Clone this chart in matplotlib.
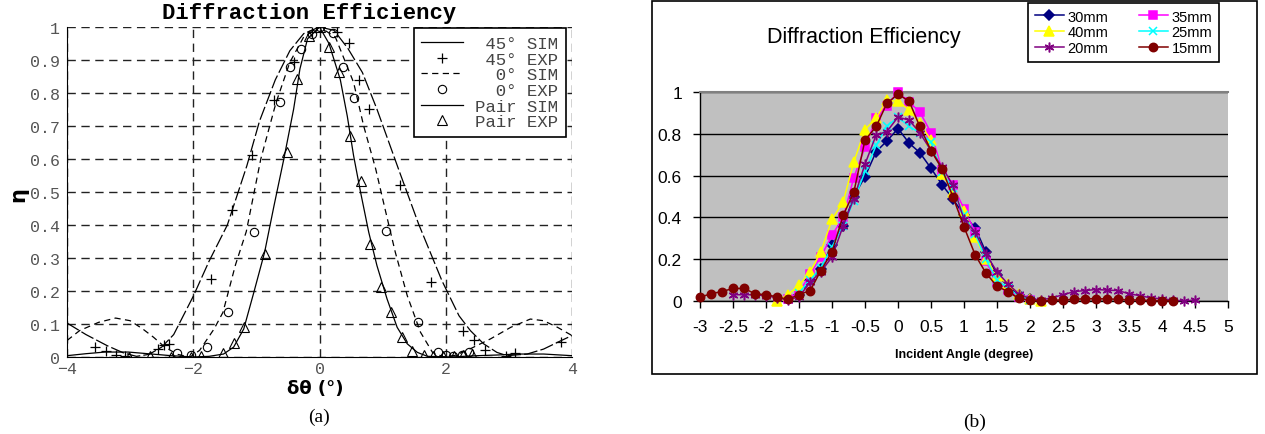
import matplotlib
matplotlib.use('Agg')
import matplotlib.pyplot as plt
from matplotlib.patches import Rectangle
from matplotlib.lines import Line2D

# ---------- (a) simulated curves and measured points ----------
x45_sim = [-4.0, -3.7, -3.36, -3.1, -2.9, -2.7, -2.5, -2.31, -2.0, -1.75, -1.46, -1.15, -0.95, -0.7, -0.47,
           -0.25, 0.0, 0.23, 0.45, 0.68, 0.91, 1.26, 1.57, 1.94, 2.21, 2.39, 2.6, 2.81, 2.97, 3.29, 3.55, 3.82, 4.0]
y45_sim = [0.103, 0.068, 0.034, 0.012, 0.002, 0.008, 0.03, 0.068, 0.184, 0.29, 0.4, 0.58, 0.715, 0.84, 0.928,
           0.98, 1.0, 0.99, 0.935, 0.862, 0.751, 0.565, 0.403, 0.231, 0.125, 0.08, 0.04, 0.014, 0.004, 0.009, 0.024, 0.049, 0.065]

x0_sim = [-4.0, -3.8, -3.5, -3.23, -3.0, -2.8, -2.63, -2.45, -2.25, -2.05, -1.9, -1.67, -1.53, -1.33, -1.16,
          -0.93, -0.69, -0.47, -0.25, 0.0, 0.25, 0.54, 0.7, 0.89, 1.05, 1.2, 1.39, 1.6, 1.79, 1.97,
          2.15, 2.39, 2.71, 3.03, 3.34, 3.55, 3.77, 4.0]
y0_sim = [0.05, 0.08, 0.105, 0.118, 0.11, 0.085, 0.06, 0.03, 0.008, 0.0, 0.02, 0.085, 0.135, 0.28, 0.38,
          0.6, 0.77, 0.893, 0.97, 1.0, 0.97, 0.832, 0.7, 0.57, 0.439, 0.318, 0.186, 0.075, 0.014, 0.0,
          0.005, 0.025, 0.055, 0.09, 0.115, 0.11, 0.09, 0.065]

xpair_sim = [-4.0, -3.7, -3.4, -3.03, -2.72, -2.35, -2.0, -1.75, -1.52, -1.36, -1.2, -1.04, -0.87, -0.72,
             -0.565, -0.41, -0.31, -0.19, 0.0, 0.15, 0.33, 0.44, 0.54, 0.65, 0.78, 0.91, 1.07, 1.23, 1.39,
             1.55, 1.71, 2.07, 2.5, 2.81, 3.13, 3.55, 4.0]
ypair_sim = [0.004, 0.01, 0.015, 0.015, 0.01, 0.004, 0.0, 0.002, 0.009, 0.03, 0.085, 0.196, 0.317, 0.459,
             0.6, 0.751, 0.873, 0.964, 1.0, 0.95, 0.84, 0.73, 0.61, 0.5, 0.378, 0.277, 0.176, 0.09, 0.04,
             0.014, 0.002, 0.0, 0.004, 0.006, 0.009, 0.009, 0.004]

x45_exp = [-3.55, -3.38, -3.22, -3.08, -2.56, -2.47, -2.38, -1.72, -1.39, -1.07, -0.72, -0.40, -0.12,
           0.28, 0.46, 0.62, 0.78, 1.27, 1.77, 2.28, 2.45, 2.62, 2.95, 3.1, 3.82]
y45_exp = [0.029, 0.017, 0.006, 0.003, 0.025, 0.035, 0.039, 0.237, 0.445, 0.612, 0.778, 0.893, 0.985,
           0.986, 0.952, 0.839, 0.753, 0.522, 0.226, 0.08, 0.052, 0.022, 0.002, 0.011, 0.046]

x0_exp = [-2.25, -2.03, -1.78, -1.45, -1.03, -0.62, -0.46, -0.29, -0.12, 0.0, 0.22, 0.38, 0.55, 1.06,
          1.56, 1.87, 2.0, 2.12, 2.25, 2.37]
y0_exp = [0.013, 0.006, 0.03, 0.135, 0.38, 0.772, 0.878, 0.933, 0.98, 1.0, 0.983, 0.878, 0.786, 0.381,
          0.105, 0.014, 0.005, 0.003, 0.006, 0.016]

xpair_exp = [-3.02, -2.69, -2.36, -2.03, -1.87, -1.53, -1.36, -1.19, -0.86, -0.51, -0.35, -0.17, 0.0,
             0.15, 0.31, 0.48, 0.65, 0.80, 0.97, 1.13, 1.30, 1.47, 1.65, 1.8, 1.95, 2.13, 2.27, 2.42]
ypair_exp = [0.001, 0.004, 0.001, 0.001, 0.003, 0.012, 0.043, 0.092, 0.312, 0.62, 0.842, 0.974, 1.0,
             0.94, 0.863, 0.669, 0.534, 0.342, 0.211, 0.135, 0.062, 0.019, 0.007, 0.003, 0.002, 0.003, 0.006, 0.01]

legend_a = [' 45° SIM', ' 45° EXP', '  0° SIM', '  0° EXP', 'Pair SIM', 'Pair EXP']
xticks_a = [-4, -2, 0, 2, 4]
xticklabels_a = ['\u22124', '\u22122', '0', '2', '4']
yticks_a = [0, 0.1, 0.2, 0.3, 0.4, 0.5, 0.6, 0.7, 0.8, 0.9, 1]
yticklabels_a = ['0', '0.1', '0.2', '0.3', '0.4', '0.5', '0.6', '0.7', '0.8', '0.9', '1']

# ---------- (b) measured efficiency per crystal length ----------
angles = [-3.0, -2.83, -2.67, -2.5, -2.33, -2.17, -2.0, -1.83, -1.67, -1.5, -1.33, -1.17, -1.0, -0.83,
          -0.67, -0.5, -0.33, -0.17, 0.0, 0.17, 0.33, 0.5, 0.67, 0.83, 1.0, 1.17, 1.33, 1.5, 1.67, 1.83,
          2.0, 2.17, 2.33, 2.5, 2.67, 2.83, 3.0, 3.17, 3.33, 3.5, 3.67, 3.83, 4.0, 4.17, 4.33, 4.5]

eff_30 = [0.03, 0.1, 0.155, 0.27, 0.36, 0.5, 0.595, 0.715, 0.765, 0.825, 0.755, 0.71, 0.635, 0.555, 0.49,
          0.41, 0.35, 0.235, 0.125, 0.07, 0.03, 0.01]                                   # -1.5 .. 2.0
eff_35 = [0.01, 0.04, 0.13, 0.21, 0.315, 0.4, 0.59, 0.735, 0.875, 0.935, 1.0, 0.95, 0.905, 0.805, 0.625,
          0.555, 0.44, 0.33, 0.19, 0.09, 0.055, 0.02, 0.005]                            # -1.67 .. 2.0
eff_40 = [0.0, 0.03, 0.075, 0.14, 0.235, 0.39, 0.475, 0.665, 0.82, 0.875, 0.96, 0.955, 0.915, 0.85, 0.77,
          0.61, 0.52, 0.43, 0.305, 0.2, 0.12, 0.08, 0.035, 0.01, 0.0]                   # -1.83 .. 2.17
eff_25 = [0.04, 0.1, 0.16, 0.26, 0.36, 0.48, 0.62, 0.745, 0.835, 0.88, 0.835, 0.805, 0.76, 0.615, 0.54,
          0.41, 0.32, 0.2, 0.1, 0.06, 0.025, 0.005]                                     # -1.5 .. 2.0
eff_20 = [0.03, 0.03, 0.03, 0.025, 0.015, 0.005, 0.02, 0.09, 0.14, 0.21, 0.36, 0.49, 0.655, 0.795, 0.81,
          0.88, 0.865, 0.805, 0.72, 0.64, 0.555, 0.39, 0.33, 0.225, 0.14, 0.08, 0.035, 0.01, 0.005, 0.015,
          0.03, 0.045, 0.05, 0.055, 0.052, 0.05, 0.035, 0.025, 0.015, 0.01, 0.005, 0.0, 0.005]  # -2.5 .. 4.5
eff_15 = [0.018, 0.035, 0.045, 0.06, 0.06, 0.035, 0.03, 0.02, 0.008, 0.03, 0.05, 0.145, 0.235, 0.41, 0.52,
          0.77, 0.835, 0.945, 0.99, 0.955, 0.835, 0.72, 0.63, 0.5, 0.355, 0.22, 0.135, 0.07, 0.045, 0.012,
          0.005, 0.0, 0.003, 0.005, 0.008, 0.011, 0.011, 0.01, 0.008, 0.005, 0.005, 0.002, 0.002, 0.002]  # -3 .. 4.17

xticks_b = [-3, -2.5, -2, -1.5, -1, -0.5, 0, 0.5, 1, 1.5, 2, 2.5, 3, 3.5, 4, 4.5, 5]
xticklabels_b = ['-3', '-2.5', '-2', '-1.5', '-1', '-0.5', '0', '0.5', '1', '1.5', '2', '2.5', '3', '3.5',
                 '4', '4.5', '5']
yticks_b = [0, 0.2, 0.4, 0.6, 0.8, 1]
yticklabels_b = ['0', '0.2', '0.4', '0.6', '0.8', '1']

W, H = 1265, 435
mono = ['Liberation Mono', 'DejaVu Sans Mono']
sans = ['Liberation Sans', 'DejaVu Sans']

fig = plt.figure(figsize=(W / 100, H / 100), dpi=100)

# ===== panel (a) =====
ax1 = fig.add_axes([67 / W, 77 / H, 505 / W, 330 / H])
long_dash = (0, (11, 2.5))
short_dash = (0, (5, 3.5))
ax1.plot(x45_sim, y45_sim, color='k', lw=0.9, ls=long_dash)
ax1.plot(x0_sim, y0_sim, color='k', lw=0.9, ls=short_dash)
ax1.plot(xpair_sim, ypair_sim, color='k', lw=0.9)
ax1.plot(x45_exp, y45_exp, ls='none', marker='+', ms=7, mew=0.9, color='k')
ax1.plot(x0_exp, y0_exp, ls='none', marker='o', ms=6, mew=0.8, mfc='none', color='k')
ax1.plot(xpair_exp, ypair_exp, ls='none', marker='^', ms=7, mew=0.8, mfc='none', color='k')

ax1.set_xlim(-4, 4)
ax1.set_ylim(0, 1)
ax1.set_xticks(xticks_a)
ax1.set_xticklabels(xticklabels_a)
ax1.set_yticks(yticks_a)
ax1.set_yticklabels(yticklabels_a)
ax1.grid(True, color='#222222', lw=1.0, ls=(0, (6, 4)))
for s in ['top', 'right']:
    ax1.spines[s].set_visible(False)
ax1.tick_params(axis='y', length=0, pad=5, labelsize=12, labelcolor='#555555')
ax1.tick_params(axis='x', length=0, pad=3, labelsize=12, labelcolor='#555555')
for t in ax1.get_xticklabels() + ax1.get_yticklabels():
    t.set_family(mono)

handles_a = [
    Line2D([], [], color='k', lw=0.9),
    Line2D([], [], ls='none', marker='+', ms=7, mew=0.9, color='k'),
    Line2D([], [], color='k', lw=0.9, ls=short_dash),
    Line2D([], [], ls='none', marker='o', ms=6, mew=0.8, mfc='none', color='k'),
    Line2D([], [], color='k', lw=0.9),
    Line2D([], [], ls='none', marker='^', ms=7, mew=0.8, mfc='none', color='k'),
]
leg_a = fig.legend(handles_a, legend_a, loc='upper right', bbox_to_anchor=(566 / W, 1 - 29 / H),
                   borderaxespad=0, frameon=True, fancybox=False, framealpha=1, edgecolor='k',
                   prop={'family': mono, 'size': 12.5}, labelspacing=0.03, handlelength=2.4,
                   handletextpad=0.7, borderpad=0.45)
leg_a.get_frame().set_linewidth(1.2)
for t in leg_a.get_texts():
    t.set_color('#444444')

fig.text(309 / W, 1 - 14 / H, 'Diffraction Efficiency', ha='center', va='center',
         family=mono, weight='bold', fontsize=16)
fig.text(18 / W, 1 - 195 / H, '\u03b7', ha='center', va='center', rotation=90,
         weight='bold', fontsize=15)
fig.text(315 / W, 1 - 389 / H, '\u03b4\u03b8 (\u00b0)', ha='center', va='center',
         family=['DejaVu Sans'], weight='bold', fontsize=13)
fig.text(319 / W, 1 - 417 / H, '(a)', ha='center', va='center', family=['Liberation Serif'], fontsize=14)

# ===== panel (b) =====
fig.add_artist(Rectangle((652 / W, 60 / H), 605 / W, 373 / H, transform=fig.transFigure,
                         fill=False, edgecolor='k', lw=1.2))
ax2 = fig.add_axes([700 / W, 133 / H, 528 / W, 209 / H])
ax2.set_facecolor('#c0c0c0')

series = [
    ('30mm', angles[9:31], eff_30, '#000080', 'D', 5),
    ('35mm', angles[8:31], eff_35, '#ff00ff', 's', 5.5),
    ('40mm', angles[7:32], eff_40, '#ffff00', '^', 6.5),
    ('25mm', angles[9:31], eff_25, '#00ffff', 'x', 6),
    ('20mm', angles[3:46], eff_20, '#800080', (6, 2, 0), 7),
    ('15mm', angles[0:44], eff_15, '#800000', 'o', 6),
]
lines_b = {}
for name, xs, ys, col, mk, size in series:
    ln, = ax2.plot(xs, ys, color=col, lw=1.1, marker=mk, ms=size, mec=col, mfc=col, mew=1.1,
                   label=name, clip_on=False, zorder=3)
    lines_b[name] = ln

ax2.set_xlim(-3, 5)
ax2.set_ylim(0, 1)
ax2.set_xticks(xticks_b)
ax2.set_xticklabels(xticklabels_b)
ax2.set_yticks(yticks_b)
ax2.set_yticklabels(yticklabels_b)
ax2.yaxis.grid(True, color='k', lw=1.0)
ax2.set_axisbelow(True)
ax2.spines['right'].set_visible(False)
ax2.spines['top'].set_color('#808080')
ax2.spines['top'].set_linewidth(1.5)
ax2.spines['left'].set_linewidth(1.0)
ax2.spines['bottom'].set_linewidth(1.0)
ax2.tick_params(direction='out', length=5, width=1, labelsize=12.5, pad=8)
for t in ax2.get_xticklabels() + ax2.get_yticklabels():
    t.set_family(sans)

order = ['30mm', '40mm', '20mm', '35mm', '25mm', '15mm']
leg_b = fig.legend([lines_b[n] for n in order], order, loc='upper left', ncol=2,
                   bbox_to_anchor=(1028 / W, 1 - 4 / H), borderaxespad=0, frameon=True,
                   fancybox=False, framealpha=1, edgecolor='k', prop={'family': sans, 'size': 10.5},
                   labelspacing=0.12, handlelength=2.0, handletextpad=0.25, columnspacing=2.1,
                   borderpad=0.45)
leg_b.get_frame().set_linewidth(1.2)

fig.text(864 / W, 1 - 37 / H, 'Diffraction Efficiency', ha='center', va='center',
         family=sans, fontsize=15.5)
fig.text(964 / W, 1 - 355 / H, 'Incident Angle (degree)', ha='center', va='center',
         family=sans, weight='bold', fontsize=9)
fig.text(975 / W, 1 - 422 / H, '(b)', ha='center', va='center', family=['Liberation Serif'], fontsize=14)

fig.savefig('out.png', dpi=100)
